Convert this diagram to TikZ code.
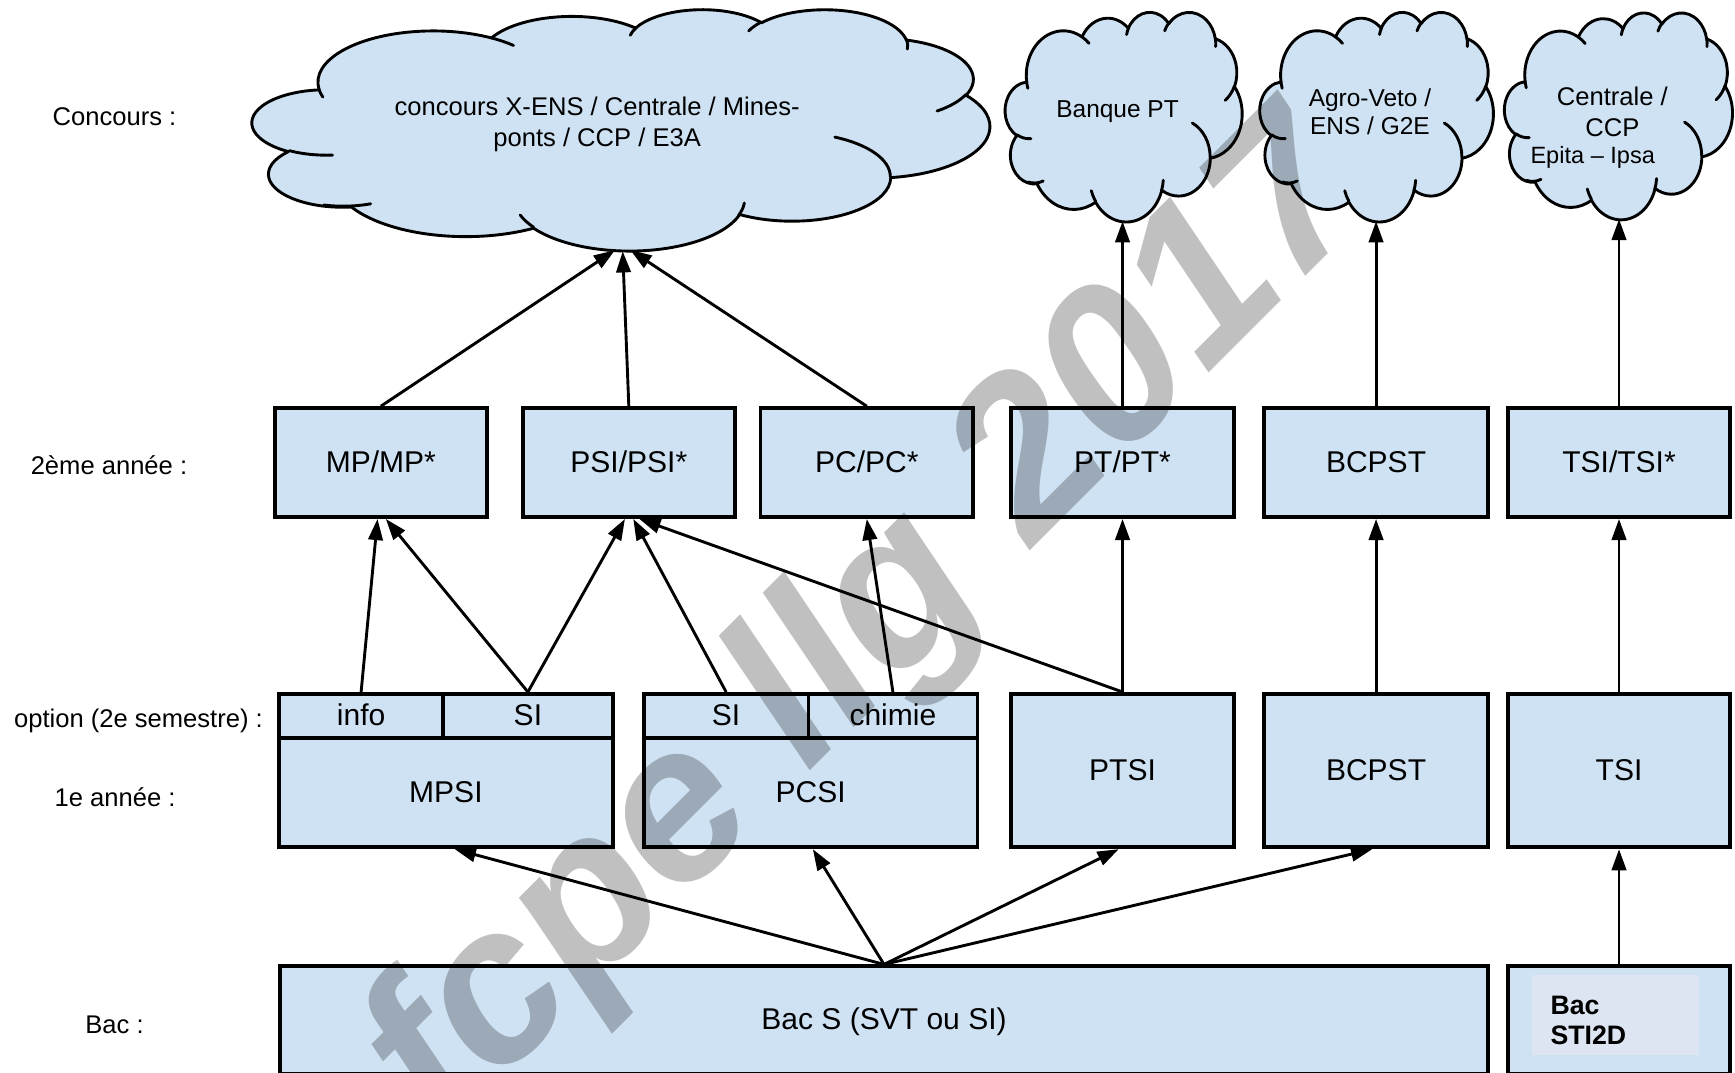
\documentclass[tikz,border=0pt]{standalone}
\usepackage{fontspec}
\setmainfont{Liberation Sans}
\usetikzlibrary{arrows.meta,calc}
\definecolor{boxblue}{HTML}{CFE2F3}
\definecolor{innerblue}{HTML}{DCE5F1}
\definecolor{wmgray}{HTML}{C0C0C0}
\tikzset{
  box/.style={draw=black, fill=boxblue, line width=1.7pt, inner sep=0pt,
    font=\fontsize{13.5}{16}\selectfont, text height=0.86em, text depth=0pt},
  lab/.style={inner sep=0pt, font=\fontsize{11.5}{14}\selectfont},
  ctext/.style={inner sep=0pt, align=center},
  cloudfill/.style={fill=boxblue, draw=black, line width=1.3pt, line join=round},
  cloudline/.style={draw=black, line width=1.3pt, line cap=round},
  arr/.style={line width=1.3pt, -{Triangle[length=9.5pt,width=6.5pt]}},
}
\newcommand\gcloud[4]{%
\begin{scope}[shift={(#1,#2)}, x={(#3*0.5pt,0pt)}, y={(0pt,-#4*0.5pt)}]
 \path[cloudfill] (39.00,143.70)
  arc[x radius=67.53, y radius=91.90, start angle=-187.745, end angle=-59.63]
  arc[x radius=53.33, y radius=72.67, start angle=-152.03, end angle=-45.44]
  arc[x radius=43.65, y radius=59.45, start angle=-153.49, end angle=-37.32]
  arc[x radius=48.57, y radius=65.95, start angle=-139.69, end angle=-10.21]
  arc[x radius=53.33, y radius=72.73, start angle=-74.77, end angle=23.21]
  arc[x radius=67.75, y radius=92.20, start angle=-37.52, end angle=81.86]
  arc[x radius=57.85, y radius=78.67, start angle=0.46, end angle=121.98]
  arc[x radius=67.52, y radius=92.15, start angle=16.85, end angle=146.24]
  arc[x radius=77.20, y radius=105.43, start angle=58.98, end angle=150.19]
  arc[x radius=43.60, y radius=59.18, start angle=83.31, end angle=223.12]
  arc[x radius=43.45, y radius=59.45, start angle=120.35, end angle=264.12]
  -- cycle;
 \path[cloudline]
  (46.93,261.77) arc[x radius=43.45, y radius=59.45, start angle=85.55, end angle=120.35]
  (69.28,348.99) arc[x radius=43.60, y radius=59.18, start angle=68.23, end angle=105.02]
  (164.78,390.90) arc[x radius=67.52, y radius=92.15, start angle=146.24, end angle=161.41]
  (288.27,347.51) arc[x radius=67.52, y radius=92.15, start angle=4.74, end angle=18.78]
  (341.29,229.54) arc[x radius=57.85, y radius=78.67, start angle=-64.03, end angle=0]
  (417.98,153.54) arc[x radius=53.33, y radius=72.73, start angle=23.22, end angle=52.82]
  (383.24,54.26) arc[x radius=48.57, y radius=65.95, start angle=-10.21, end angle=5.16]
  (290.78,39.52) arc[x radius=48.57, y radius=65.95, start angle=-156.28, end angle=-139.69]
  (221.41,47.20) arc[x radius=43.65, y radius=59.45, start angle=-167.73, end angle=-153.49]
  (140.00,51.92) arc[x radius=67.53, y radius=91.90, start angle=-59.63, end angle=-45.72]
  (41.27,157.89) arc[x radius=67.53, y radius=91.90, start angle=163.19, end angle=172.25];
\end{scope}}
\begin{document}
\begin{tikzpicture}[x=0.5pt, y=-0.5pt]
\useasboundingbox (0,0) rectangle (1560.3,964.9);
\clip (0,0) rectangle (1560.3,964.9);
\fill[white] (0,0) rectangle (1560.3,964.9);

% side labels
\node[lab] (lc) at (103,105) {Concours :};
\node[lab] (l2) at (98,418) {2ème année :};
\node[lab] (lo) at (124.5,648) {option (2e semestre) :};
\node[lab] (l1) at (103.5,717) {1e année :};
\node[lab] (lb) at (103,922) {Bac :};

% clouds
\gcloud{227}{8}{1.5347}{0.5023}
\gcloud{904}{10.5}{0.4931}{0.4363}
\gcloud{1133}{10.5}{0.4861}{0.4363}
\gcloud{1353}{11}{0.4745}{0.4306}
\node[ctext, font=\fontsize{11.5}{14}\selectfont] (c1t) at (537,112) {concours X-ENS / Centrale / Mines-\\ponts / CCP / E3A};
\node[ctext, font=\fontsize{11}{12.5}\selectfont] (c2t) at (1005,100) {Banque PT};
\node[ctext, font=\fontsize{11}{12.5}\selectfont] (c3t) at (1232,100.5) {Agro-Veto /\\ENS / G2E};
\node[ctext, font=\fontsize{11.5}{13.75}\selectfont] (c4t) at (1450,100.5) {Centrale /\\CCP};
\node[ctext, anchor=west, font=\fontsize{10.6}{13}\selectfont] (c4e) at (1376,142) {Epita – Ipsa};

% 2nd year
\node[box, minimum width=95.5pt, minimum height=49pt] (mp) at (342.5,416) {MP/MP*};
\node[box, minimum width=95.5pt, minimum height=49pt] (psi) at (565.5,416) {PSI/PSI*};
\node[box, minimum width=95.5pt, minimum height=49pt] (pc) at (779.5,416) {PC/PC*};
\node[box, minimum width=100.5pt, minimum height=49pt] (pt) at (1009.5,416) {PT/PT*};
\node[box, minimum width=100.5pt, minimum height=49pt] (bc2) at (1237.5,416) {BCPST};
\node[box, minimum width=100pt, minimum height=49pt] (tsi2) at (1456,416) {TSI/TSI*};

% options
\node[box, minimum width=73.75pt, minimum height=20pt] (info) at (324.75,644) {info};
\node[box, minimum width=76.25pt, minimum height=20pt] (siA) at (474.75,644) {SI};
\node[box, minimum width=74pt, minimum height=20pt] (siB) at (653,644) {SI};
\node[box, minimum width=76pt, minimum height=20pt] (chimie) at (803,644) {chimie};

% 1st year
\node[box, minimum width=150pt, minimum height=49pt] (mpsi) at (401,713) {MPSI};
\node[box, minimum width=150pt, minimum height=49pt] (pcsi) at (729,713) {PCSI};
\node[box, minimum width=100.5pt, minimum height=69pt] (ptsi) at (1009.5,693) {PTSI};
\node[box, minimum width=100.5pt, minimum height=69pt] (bc1) at (1237.5,693) {BCPST};
\node[box, minimum width=100pt, minimum height=69pt] (tsi1) at (1456,693) {TSI};

% bac
\node[box, minimum width=543pt, minimum height=48.5pt] (bacS) at (795,917.5) {Bac S (SVT ou SI)};
\node[box, minimum width=100pt, minimum height=48.5pt] (sti) at (1456,917.5) {};
\node[fill=innerblue, minimum width=75pt, minimum height=36pt, inner sep=0pt] (stiin) at (1453,913) {};
\node[anchor=west, align=left, inner sep=0pt, font=\fontsize{12}{13.5}\selectfont\bfseries] (stitxt) at (1394,917.5) {Bac\\STI2D};

% arrow ends at clouds
\coordinate (t1) at (553,225);
\coordinate (t2) at (560,226);
\coordinate (t3) at (567,225);
\coordinate (t4) at (1009.5,199);
\coordinate (t5) at (1237.5,199);
\coordinate (t6) at (1456,197);

\draw[arr] (mp.north) -- (t1);
\draw[arr] (psi.north) -- (t2);
\draw[arr] (pc.north) -- (t3);
\draw[arr] (pt.north) -- (t4);
\draw[arr] (bc2.north) -- (t5);
\draw[arr] (tsi2.north) -- (t6);

\draw[arr] (info.north) -- ([xshift=-1.5pt]mp.south);
\draw[arr] (siA.north) -- ([xshift=2.25pt]mp.south);
\draw[arr] (siA.north) -- ([xshift=-1.75pt]psi.south);
\draw[arr] (siB.north) -- ([xshift=2pt]psi.south);
\draw[arr] (chimie.north) -- (pc.south);
\draw[arr] (ptsi.north) -- ([xshift=4.75pt]psi.south);
\draw[arr] (ptsi.north) -- (pt.south);
\draw[arr] (bc1.north) -- (bc2.south);
\draw[arr] (tsi1.north) -- (tsi2.south);

\draw[arr] (bacS.north) -- ([xshift=4pt]mpsi.south);
\draw[arr] (bacS.north) -- ([xshift=1pt]pcsi.south);
\draw[arr] (bacS.north) -- ([xshift=-1.75pt]ptsi.south);
\draw[arr] (bacS.north) -- ([xshift=-1.75pt]bc1.south);
\draw[arr] (sti.north) -- (tsi1.south);

% watermark
\begin{scope}[blend mode=multiply]
\node[text=wmgray, rotate=45, inner sep=0pt, font={\fontsize{99}{99}\selectfont\bfseries\itshape}] (wm) at (784,566) {fcpe llg 2017};
\end{scope}
\end{tikzpicture}
\end{document}
